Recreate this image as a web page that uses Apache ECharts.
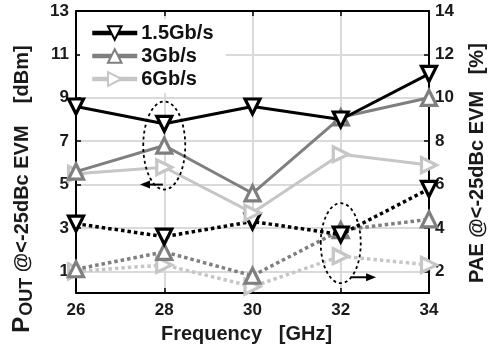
<!DOCTYPE html>
<html><head><meta charset="utf-8">
<script src="https://cdn.jsdelivr.net/npm/echarts@6/dist/echarts.min.js"></script>
<style>html,body{margin:0;padding:0;background:#fff}#c{width:495px;height:349px}</style>
</head><body><div id="c"></div>
<script>
// ---- data ----
const freqs = [26, 28, 30, 32, 34];
const legendNames = ['1.5Gb/s', '3Gb/s', '6Gb/s'];
const pout15 = [8.6, 7.8, 8.6, 8.0, 10.1];
const pout3  = [5.6, 6.8, 4.6, 8.1, 9.0];
const pout6  = [5.5, 5.8, 3.7, 6.4, 5.9];
const pae15  = [4.2, 3.6, 4.3, 3.7, 5.8];
const pae3   = [2.1, 2.9, 1.8, 3.9, 4.4];
const pae6   = [2.0, 2.3, 1.3, 2.7, 2.3];
const xTicks = [26, 28, 30, 32, 34];
const leftTicks = [1, 3, 5, 7, 9, 11, 13];
const rightTicks = [2, 4, 6, 8, 10, 12, 14];
// annotation anchors (data units)
const ellipsePout = [28, 6.8];
const ellipsePae = [32, 3.3];
const arrowPout = [[27.97, 5.0], [27.45, 5.0]];
const arrowPae = [[32.22, 1.73], [32.8, 1.73]];

const FONT = '"Liberation Sans", Arial, sans-serif';
const C_BLACK = '#000000', C_GRAY = '#7f7f7f', C_LIGHT = '#c6c6c6';

const chart = echarts.init(document.getElementById('c'));
const pts = v => freqs.map((f, i) => [f, v[i]]);

function mk(name, vals, color, rot, yIdx, dotted, z) {
  return {
    name, type: 'line', xAxisIndex: 0, yAxisIndex: yIdx, data: pts(vals),
    symbol: 'triangle', symbolRotate: rot, symbolSize: 15, z,
    lineStyle: { color, width: dotted ? 3.5 : 3, type: dotted ? [3.5, 3] : 'solid' },
    itemStyle: { color: '#fff', borderColor: color, borderWidth: 3.2 },
    emphasis: { disabled: true }, animation: false
  };
}

const tickStyle = { show: true, inside: true, length: 5, lineStyle: { color: '#000', width: 1.5 } };
const axisLine = { show: true, onZero: false, lineStyle: { color: '#000', width: 2 } };
const labelStyle = { fontFamily: FONT, fontWeight: 'bold', fontSize: 17, color: '#1a1a1a' };
const txt = (size) => ({ fontFamily: FONT, fontWeight: 'bold', fontSize: size, color: '#1a1a1a' });

chart.setOption({
  animation: false,
  backgroundColor: '#fff',
  grid: { left: 76, right: 61, top: 11, bottom: 52 },
  legend: {
    data: legendNames, orient: 'vertical', left: 80, top: 19,
    padding: [4, 12, 4, 10], backgroundColor: '#fff',
    itemWidth: 45, itemHeight: 17, itemGap: 3,
    lineStyle: { width: 4.5 },
    textStyle: { ...txt(20), color: '#111', padding: [0, 0, 0, -1] },
    z: 10
  },
  xAxis: [{
    type: 'value', min: 26, max: 34, interval: 2, position: 'bottom',
    axisLine, axisTick: tickStyle,
    axisLabel: { ...labelStyle, margin: 9, customValues: xTicks },
    splitLine: { show: true, lineStyle: { color: '#dadada', width: 2 } },
    name: 'Frequency   [GHz]', nameLocation: 'middle', nameGap: 27,
    nameTextStyle: { ...txt(20), padding: [0, 12, 0, 0] }
  }, {
    type: 'value', min: 26, max: 34, interval: 2, position: 'top',
    axisLine, axisTick: tickStyle, axisLabel: { show: false }, splitLine: { show: false }
  }],
  yAxis: [{
    type: 'value', min: 0, max: 13, position: 'left',
    axisLine, axisTick: { ...tickStyle, customValues: leftTicks },
    axisLabel: { ...labelStyle, margin: 7, customValues: leftTicks },
    splitLine: { show: true, lineStyle: { color: '#dadada', width: 2 } },
    name: '{p|P}{b|OUT}{a| @<-25dBc EVM    [dBm]}', nameLocation: 'middle', nameRotate: 90, nameGap: 40,
    nameTextStyle: {
      padding: [0, 74, 0, 0],
      rich: {
        p: txt(24),
        a: txt(20),
        b: { ...txt(18), padding: [9, 0, 0, 1] }
      }
    }
  }, {
    type: 'value', min: 1, max: 14, position: 'right',
    axisLine, axisTick: { ...tickStyle, customValues: rightTicks },
    axisLabel: { ...labelStyle, margin: 6, customValues: rightTicks },
    splitLine: { show: false },
    name: 'PAE @<-25dBc EVM   [%]', nameLocation: 'middle', nameRotate: 90, nameGap: 38,
    nameTextStyle: { ...txt(20), padding: [0, 22, 0, 0] }
  }],
  series: [
    mk('1.5Gb/s PAE', pae15, C_BLACK, 180, 1, true, 4),
    mk('3Gb/s PAE', pae3, C_GRAY, 0, 1, true, 3),
    mk('6Gb/s PAE', pae6, C_LIGHT, -90, 1, true, 2),
    mk(legendNames[2], pout6, C_LIGHT, -90, 0, false, 5),
    mk(legendNames[1], pout3, C_GRAY, 0, 0, false, 6),
    mk(legendNames[0], pout15, C_BLACK, 180, 0, false, 7)
  ]
});

// annotations positioned through the series' coordinate systems
const pL = p => chart.convertToPixel({ seriesIndex: 5 }, p);
const pR = p => chart.convertToPixel({ seriesIndex: 0 }, p);
function arrow(a, b) {
  const dx = b[0] - a[0], dir = dx > 0 ? 1 : -1, L = 10, W = 4;
  return [
    { type: 'line', shape: { x1: a[0], y1: a[1], x2: b[0] - dir * L * 0.6, y2: b[1] }, style: { stroke: '#000', lineWidth: 2 }, z: 100 },
    { type: 'polygon', shape: { points: [[b[0], b[1]], [b[0] - dir * L, b[1] - W], [b[0] - dir * L, b[1] + W]] }, style: { fill: '#000' }, z: 100 }
  ];
}
const e1 = pL(ellipsePout), e2 = pR(ellipsePae);
chart.setOption({
  graphic: [
    { type: 'ellipse', shape: { cx: e1[0], cy: e1[1], rx: 21, ry: 44 }, style: { fill: null, stroke: '#000', lineWidth: 1.8, lineDash: [3, 3] }, z: 100 },
    { type: 'ellipse', shape: { cx: e2[0], cy: e2[1], rx: 20, ry: 40 }, style: { fill: null, stroke: '#000', lineWidth: 1.8, lineDash: [3, 3] }, z: 100 },
    ...arrow(pL(arrowPout[0]), pL(arrowPout[1])),
    ...arrow(pR(arrowPae[0]), pR(arrowPae[1]))
  ]
});
</script>
</body></html>
